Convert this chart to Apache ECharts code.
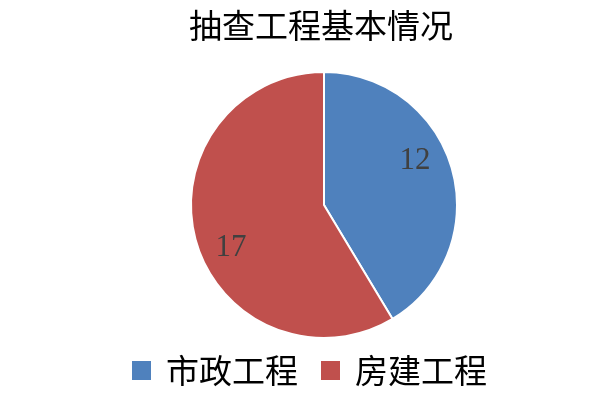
<!DOCTYPE html>
<html><head><meta charset="utf-8">
<script src="https://cdn.jsdelivr.net/npm/echarts@6/dist/echarts.min.js"></script>
<style>html,body{margin:0;padding:0;background:#fff}#c{width:608px;height:401px}</style>
</head><body><div id="c"></div>
<script>
const titleText = '抽查工程基本情况';
const categories = ['市政工程', '房建工程'];
const values = [12, 17];
const colors = ['#4F81BD', '#C0504D'];
const labelShift = [[24, -26], [-26, 24]];

const chart = echarts.init(document.getElementById('c'));
chart.setOption({
  animation: false,
  backgroundColor: '#fff',
  title: {
    text: titleText, left: 184, top: 4,
    textStyle: { fontFamily: 'Noto Sans CJK SC', fontSize: 33, fontWeight: 'normal', color: '#000' }
  },
  legend: {
    bottom: 14, left: 132, padding: 0,
    itemWidth: 19, itemHeight: 19, itemGap: 23, icon: 'rect',
    itemStyle: { borderWidth: 0, borderColor: 'transparent' },
    textStyle: { fontFamily: 'Noto Sans CJK SC', fontSize: 33, color: '#000', padding: [0, 0, 0, 10] },
    data: categories
  },
  series: [{
    type: 'pie',
    center: [324, 205], radius: 133,
    startAngle: 90, clockwise: true,
    itemStyle: { borderColor: '#fff', borderWidth: 2 },
    label: { position: 'inside', fontFamily: 'Liberation Serif', fontSize: 31, color: '#404040', formatter: '{c}' },
    labelLine: { show: false },
    labelLayout: function (p) { return { dx: labelShift[p.dataIndex][0], dy: labelShift[p.dataIndex][1] }; },
    data: categories.map((n, i) => ({ name: n, value: values[i], itemStyle: { color: colors[i] } }))
  }]
});
</script></body></html>
